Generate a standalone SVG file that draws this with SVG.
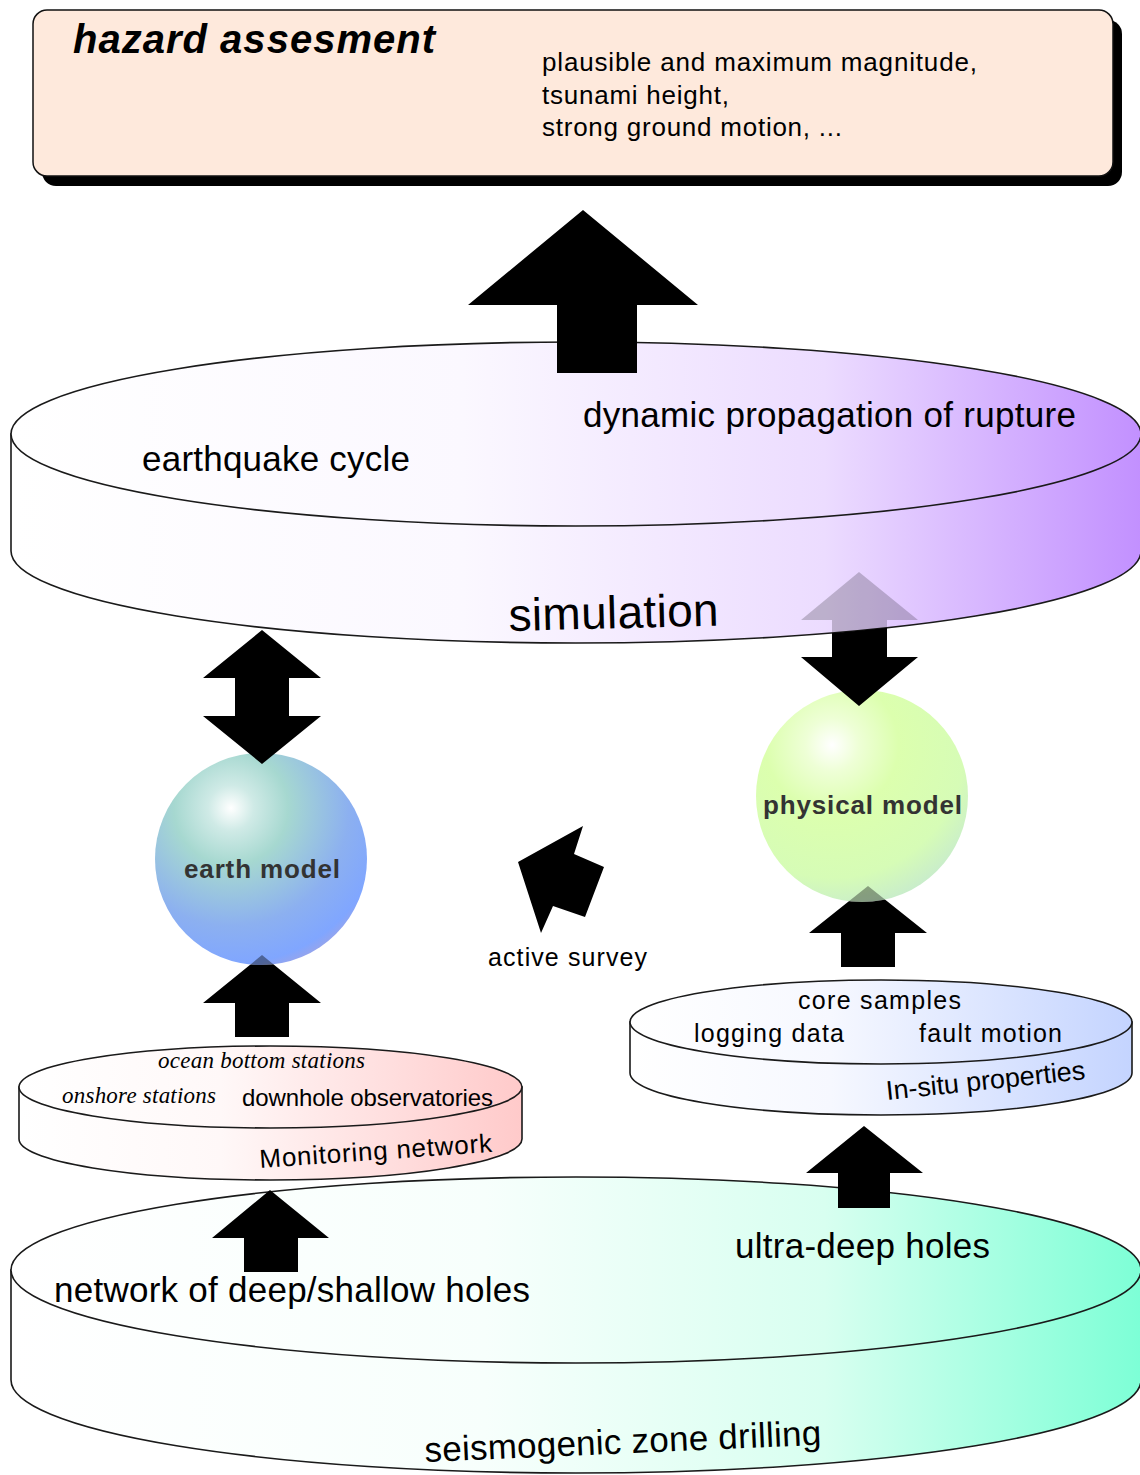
<svg xmlns="http://www.w3.org/2000/svg" width="1140" height="1475" viewBox="0 0 1140 1475">
<style>
.t{font-family:"Liberation Sans",Arial,sans-serif;fill:#000}
.ser{font-family:"Liberation Serif","Times New Roman",serif;font-style:italic;fill:#000}
.cyl{stroke:#1a1a1a;stroke-width:1.6}
.lbl{font-family:"Liberation Sans",Arial,sans-serif;font-weight:bold;fill:#333;font-size:26px}
.arr{fill:#000}
</style>
<defs>
<linearGradient id="gSim" x1="11" y1="0" x2="1141" y2="0" gradientUnits="userSpaceOnUse">
<stop offset="0" stop-color="#ffffff"/><stop offset="0.4" stop-color="#fbf8ff"/><stop offset="0.72" stop-color="#ecdcff"/><stop offset="1" stop-color="#c290ff"/>
</linearGradient>
<linearGradient id="gDrill" x1="11" y1="0" x2="1141" y2="0" gradientUnits="userSpaceOnUse">
<stop offset="0" stop-color="#ffffff"/><stop offset="0.42" stop-color="#f7fffc"/><stop offset="0.72" stop-color="#d8fff0"/><stop offset="1" stop-color="#7dffd6"/>
</linearGradient>
<linearGradient id="gMon" x1="20" y1="0" x2="522" y2="0" gradientUnits="userSpaceOnUse">
<stop offset="0" stop-color="#ffffff"/><stop offset="0.4" stop-color="#fff8f8"/><stop offset="1" stop-color="#ffcaca"/>
</linearGradient>
<linearGradient id="gCore" x1="630" y1="0" x2="1132" y2="0" gradientUnits="userSpaceOnUse">
<stop offset="0" stop-color="#ffffff"/><stop offset="0.4" stop-color="#f6f8ff"/><stop offset="1" stop-color="#c4d4ff"/>
</linearGradient>
<radialGradient id="gEarth" cx="231" cy="808" r="190" fx="231" fy="808" gradientUnits="userSpaceOnUse">
<stop offset="0" stop-color="#ffffff"/><stop offset="0.12" stop-color="#cfeae6"/><stop offset="0.3" stop-color="#a6d8d0"/><stop offset="0.62" stop-color="#8cb0f0"/><stop offset="0.82" stop-color="#80a6ff"/><stop offset="1" stop-color="#c8a0c0"/>
</radialGradient>
<radialGradient id="gPhys" cx="832" cy="745" r="190" fx="832" fy="745" gradientUnits="userSpaceOnUse">
<stop offset="0" stop-color="#ffffff"/><stop offset="0.14" stop-color="#eeffd6"/><stop offset="0.35" stop-color="#dcffae"/><stop offset="0.7" stop-color="#d6fcb6"/><stop offset="0.88" stop-color="#c8eccc"/><stop offset="1" stop-color="#b8d4e8"/>
</radialGradient>
<mask id="mPhysDbl" maskUnits="userSpaceOnUse" x="0" y="0" width="1140" height="1475">
<path d="M0,551 L11,551 A565,92 0 0 0 1141,551 L1140,551 L1140,1475 L0,1475 Z" fill="#fff"/>
<path d="M0,0 L1140,0 L1140,551 L1141,551 A565,92 0 0 1 11,551 L0,551 Z" fill="#fff" fill-opacity="0.2"/>
</mask>
<mask id="mEarthUp" maskUnits="userSpaceOnUse" x="0" y="0" width="1140" height="1475">
<path d="M0,0H1140V1475H0Z M155,859 a106,106 0 1,0 212,0 a106,106 0 1,0 -212,0Z" fill="#fff" fill-rule="evenodd"/>
<circle cx="261" cy="859" r="106" fill="#fff" fill-opacity="0.4"/>
</mask>
<mask id="mPhysUp" maskUnits="userSpaceOnUse" x="0" y="0" width="1140" height="1475">
<path d="M0,0H1140V1475H0Z M756,796 a106,106 0 1,0 212,0 a106,106 0 1,0 -212,0Z" fill="#fff" fill-rule="evenodd"/>
<circle cx="862" cy="796" r="106" fill="#fff" fill-opacity="0.35"/>
</mask>
</defs>
<rect width="1140" height="1475" fill="#fff"/>

<g id="hazard">
<rect x="42" y="20" width="1080" height="166" rx="14" fill="#000"/>
<rect x="33" y="10" width="1080" height="166" rx="14" fill="#fee9dc" stroke="#111" stroke-width="1.5"/>
<text class="t" x="73" y="53" font-size="40" font-weight="bold" font-style="italic" textLength="362">hazard assesment</text>
<text class="t" x="542" y="71" font-size="26" textLength="435">plausible and maximum magnitude,</text>
<text class="t" x="542" y="104" font-size="26" textLength="187">tsunami height,</text>
<text class="t" x="542" y="136" font-size="26" textLength="300">strong ground motion, ...</text>
</g>

<g id="simulation">
<path class="cyl" d="M11,434 L11,551 A565,92 0 0 0 1141,551 L1141,434 Z" fill="url(#gSim)"/>
<ellipse class="cyl" cx="576" cy="434" rx="565" ry="92" fill="url(#gSim)"/>
<text class="t" x="583" y="427" font-size="35" textLength="493">dynamic propagation of rupture</text>
<text class="t" x="142" y="471" font-size="35" textLength="268">earthquake cycle</text>
<text class="t" x="509" y="631" font-size="46" textLength="210" transform="rotate(-1.5 509 631)">simulation</text>
</g>

<g id="drilling">
<path class="cyl" d="M11,1270 L11,1380 A565,93 0 0 0 1141,1380 L1141,1270 Z" fill="url(#gDrill)"/>
<ellipse class="cyl" cx="576" cy="1270" rx="565" ry="93" fill="url(#gDrill)"/>
<text class="t" x="54" y="1302" font-size="35" textLength="476">network of deep/shallow holes</text>
<text class="t" x="735" y="1258" font-size="35" textLength="255">ultra-deep holes</text>
<text class="t" x="425" y="1462" font-size="35" textLength="397" transform="rotate(-2.5 425 1462)">seismogenic zone drilling</text>
</g>

<g id="monitoring">
<path class="cyl" d="M19,1087 L19,1139 A251.5,41 0 0 0 522,1139 L522,1087 Z" fill="url(#gMon)"/>
<ellipse class="cyl" cx="270.5" cy="1087" rx="251.5" ry="41" fill="url(#gMon)"/>
<text class="ser" x="158" y="1068" font-size="23" textLength="207">ocean bottom stations</text>
<text class="ser" x="62" y="1103" font-size="23" textLength="154">onshore stations</text>
<text class="t" x="242" y="1106" font-size="24" textLength="251">downhole observatories</text>
<text class="t" x="260" y="1168" font-size="26" textLength="233" transform="rotate(-4 260 1168)">Monitoring network</text>
</g>

<g id="insitu">
<path class="cyl" d="M630,1022 L630,1073 A251,42 0 0 0 1132,1073 L1132,1022 Z" fill="url(#gCore)"/>
<ellipse class="cyl" cx="881" cy="1022" rx="251" ry="42" fill="url(#gCore)"/>
<text class="t" x="798" y="1009" font-size="25" textLength="163">core samples</text>
<text class="t" x="694" y="1042" font-size="25" textLength="150">logging data</text>
<text class="t" x="919" y="1042" font-size="25" textLength="143">fault motion</text>
<text class="t" x="887" y="1100" font-size="27" textLength="200" transform="rotate(-6 887 1100)">In-situ properties</text>
</g>

<g id="earth-model">
<circle cx="261" cy="859" r="106" fill="url(#gEarth)"/>
<text class="lbl" x="184" y="878" textLength="156">earth model</text>
</g>

<g id="physical-model">
<circle cx="862" cy="796" r="106" fill="url(#gPhys)"/>
<text class="lbl" x="763" y="814" textLength="199">physical model</text>
</g>

<g id="active-survey">
<text class="t" x="488" y="966" font-size="25" textLength="159">active survey</text>
</g>

<g id="connectors">
<polygon class="arr" points="583,210 698,305 637,305 637,373 557,373 557,305 468,305"/>
<polygon class="arr" points="262,630 321,678 289,678 289,716 321,716 262,764 203,716 235,716 235,678 203,678"/>
<polygon class="arr" mask="url(#mEarthUp)" points="262,955 321,1003 289,1003 289,1037 235,1037 235,1003 203,1003"/>
<polygon class="arr" mask="url(#mPhysDbl)" points="859,572 918,620 887,620 887,657 918,657 859,706 801,657 832,657 832,620 801,620"/>
<polygon class="arr" mask="url(#mPhysUp)" points="868,886 927,933 895,933 895,967 841,967 841,933 809,933"/>
<polygon class="arr" points="864,1126 923,1173 890,1173 890,1208 838,1208 838,1173 806,1173"/>
<polygon class="arr" points="270,1190 329,1238 298,1238 298,1272 244,1272 244,1238 212,1238"/>
<polygon class="arr" points="583,826 574,854 604,867 585,917 553,906 541,933 518,862"/>
</g>
</svg>
